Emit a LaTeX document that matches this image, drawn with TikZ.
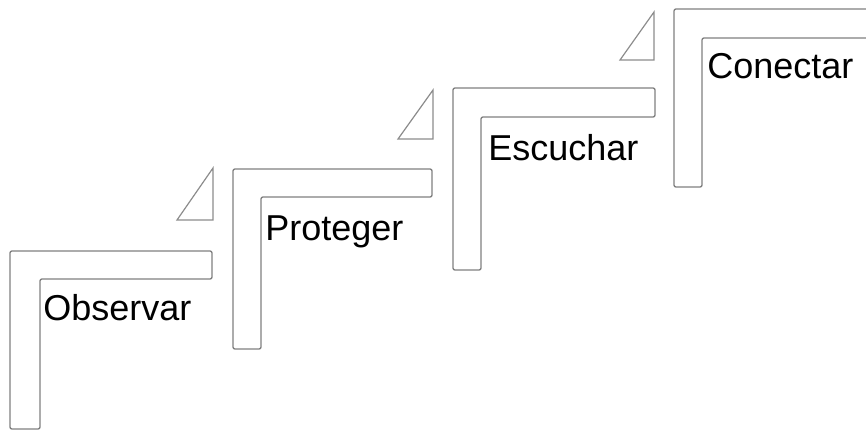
\documentclass[tikz,border=0pt]{standalone}
\usepackage{fontspec}
\setmainfont{Liberation Sans}
\usepackage{tikz}

\begin{document}
\begin{tikzpicture}[x=0.75pt, y=-0.75pt,
	peldano/.style={draw=black!50, line width=1pt, rounded corners=1.5pt},
	rampa/.style={draw=black!45, line width=.9pt},
	texto/.style={anchor=base west, inner sep=0pt, font=\fontsize{27}{32}\selectfont}]
				%Marco
				\useasboundingbox (0,0) rectangle (866,430);
				\clip (0,0) rectangle (866,430);
				%Peldanos
				\draw[peldano] (10,429)--(10,251)--(212,251)--(212,279)--(40,279)--(40,429)--cycle;
				\draw[peldano] (233,349)--(233,169)--(432,169)--(432,197)--(261,197)--(261,349)--cycle;
				\draw[peldano] (453,270)--(453,88)--(655,88)--(655,117)--(481,117)--(481,270)--cycle;
				\draw[peldano] (674,187)--(674,9)--(900,9)--(900,38)--(702,38)--(702,187)--cycle;
				%Triangulos
				\draw[rampa] (213,168)--(213,220)--(177,220)--cycle;
				\draw[rampa] (433,90)--(433,139)--(398,139)--cycle;
				\draw[rampa] (654,12)--(654,60)--(620,60)--cycle;
				%Textos
				\node[texto] (observar) at (43,320) {Observar};
				\node[texto] (proteger) at (265,240) {Proteger};
				\node[texto] (escuchar) at (488,160) {Escuchar};
				\node[texto] (conectar) at (707,78) {Conectar};
\end{tikzpicture}
\end{document}
